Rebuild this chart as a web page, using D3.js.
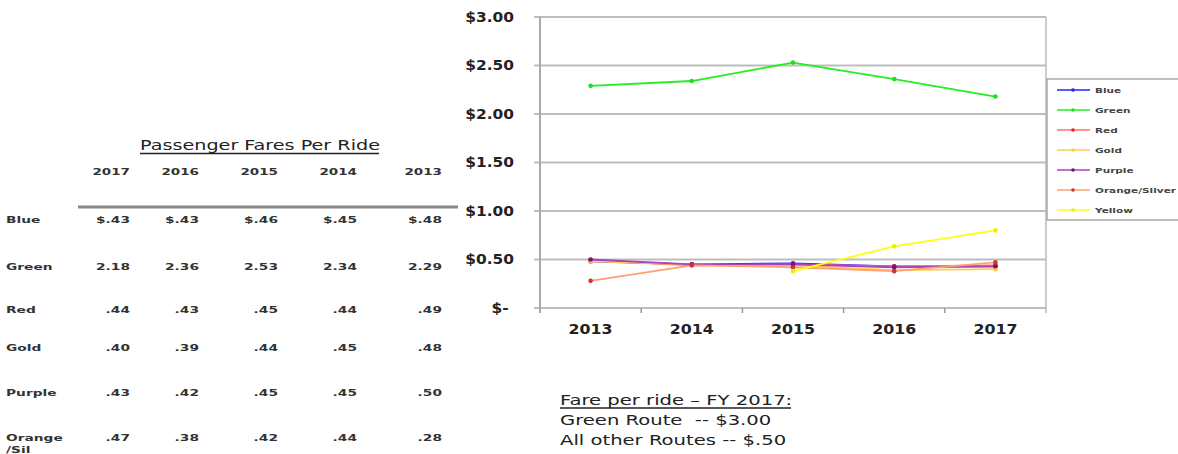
<!DOCTYPE html>
<html><head><meta charset="utf-8">
<script src="https://cdn.jsdelivr.net/npm/d3@7"></script>
<style>
body{margin:0;background:#fff;}
svg{display:block;font-family:"DejaVu Sans",Verdana,sans-serif;}
text{white-space:pre;}
</style></head>
<body><svg id="c" width="1178" height="454"></svg>
<script>
const years = ["2013","2014","2015","2016","2017"];
const seriesNames = ["Blue","Green","Red","Gold","Purple","Orange/Silver","Yellow"];
const blue   = [0.48,0.45,0.46,0.43,0.43];
const green  = [2.29,2.34,2.53,2.36,2.18];
const red    = [0.49,0.44,0.45,0.43,0.44];
const gold   = [0.48,0.45,0.44,0.39,0.40];
const purple = [0.50,0.45,0.45,0.42,0.43];
const orange = [0.28,0.44,0.42,0.38,0.47];
const yellow = [null,null,0.38,0.635,0.80];
const yTicks = [0,0.5,1,1.5,2,2.5,3];
const yTickLabels = ["$- ","$0.50","$1.00","$1.50","$2.00","$2.50","$3.00"];

// table data
const tableTitle = "Passenger Fares Per Ride";
const tableYears = ["2017","2016","2015","2014","2013"];
const tableRows = ["Blue","Green","Red","Gold","Purple","Orange"];
const tableVals = [
  ["$.43","$.43","$.46","$.45","$.48"],
  ["2.18","2.36","2.53","2.34","2.29"],
  [".44",".43",".45",".44",".49"],
  [".40",".39",".44",".45",".48"],
  [".43",".42",".45",".45",".50"],
  [".47",".38",".42",".44",".28"]
];
const noteLines = ["Fare per ride \u2013 FY 2017:","Green Route  -- $3.00","All other Routes -- $.50"];

const lineColors = ["#2222ff","#22ee22","#ff6f6f","#ffcc55","#aa44bb","#ffa070","#ffff11"];
const markColors = ["#2222ff","#22dd22","#ee2222","#ffcc33","#771177","#cc3333","#eeee00"];
const allSeries = [blue,green,red,gold,purple,orange,yellow];

const svg = d3.select("#c");
const L=540, R=1046, T=17, B=308;
const x = d3.scaleBand().domain(years).range([L,R]);
const y = d3.scaleLinear().domain([0,3]).range([B,T]);

function stext(g, px, py, txt, opts){
  const t = g.append("text")
    .attr("transform",`translate(${px},${py}) scale(${opts.sx||1},1)`)
    .attr("font-size",opts.size).attr("fill",opts.fill||"#222")
    .attr("text-anchor",opts.anchor||"start")
    .attr("font-weight",opts.bold?"bold":"normal")
    .text(txt);
  if(opts.dy) t.attr("dy",opts.dy);
  return t;
}

// grid
svg.append("g").selectAll("line").data(yTicks).join("line")
  .attr("x1",L-6).attr("x2",R).attr("y1",d=>y(d)).attr("y2",d=>y(d))
  .attr("stroke","#bdbdbd").attr("stroke-width",2);
svg.append("line").attr("x1",L).attr("x2",L).attr("y1",T).attr("y2",B+5).attr("stroke","#aaa").attr("stroke-width",2);
svg.append("line").attr("x1",R).attr("x2",R).attr("y1",T).attr("y2",B+5).attr("stroke","#bbb").attr("stroke-width",1.5);
svg.append("g").selectAll("line").data(years.slice(1)).join("line")
  .attr("x1",d=>x(d)).attr("x2",d=>x(d)).attr("y1",B).attr("y2",B+5)
  .attr("stroke","#999").attr("stroke-width",1.5);

const yl = svg.append("g");
yTicks.forEach((d,i)=>{
  stext(yl, 514, y(d), yTickLabels[i], {size:14, bold:true, anchor:"end", sx:1.1, dy:"0.35em"});
});
const xl = svg.append("g");
years.forEach(d=>{
  stext(xl, x(d)+x.bandwidth()/2, 334, d, {size:14, bold:true, anchor:"middle", sx:1.13});
});

const line = d3.line().defined(d=>d.v!=null).x(d=>x(d.yr)+x.bandwidth()/2).y(d=>y(d.v));
allSeries.forEach((s,i)=>{
  const pts = years.map((yr,j)=>({yr,v:s[j]}));
  svg.append("path").datum(pts).attr("d",line).attr("fill","none")
    .attr("stroke",lineColors[i]).attr("stroke-width",1.8);
  svg.append("g").selectAll("circle").data(pts.filter(p=>p.v!=null)).join("circle")
    .attr("cx",p=>x(p.yr)+x.bandwidth()/2).attr("cy",p=>y(p.v)).attr("r",2.3)
    .attr("fill",markColors[i]);
});

const lg = svg.append("g");
lg.append("rect").attr("x",1047).attr("y",79).attr("width",135).attr("height",141)
  .attr("fill","#fff").attr("stroke","#aaa").attr("stroke-width",1.5);
seriesNames.forEach((n,i)=>{
  const yy = 90 + i*20;
  lg.append("line").attr("x1",1057).attr("x2",1090).attr("y1",yy).attr("y2",yy)
    .attr("stroke",lineColors[i]).attr("stroke-width",1.6);
  lg.append("circle").attr("cx",1073).attr("cy",yy).attr("r",1.8).attr("fill",markColors[i]);
  stext(lg, 1095, yy, n, {size:7.5, bold:true, fill:"#444", sx:1.4, dy:"0.35em"});
});

const tg = svg.append("g");
stext(tg, 260, 150, tableTitle, {size:14, anchor:"middle", sx:1.37});
tg.append("line").attr("x1",140).attr("x2",379).attr("y1",153.5).attr("y2",153.5).attr("stroke","#222").attr("stroke-width",1.4);
const colRight = [130,199,278,357,442];
tableYears.forEach((yr,j)=>{
  stext(tg, colRight[j], 175, yr, {size:9, bold:true, fill:"#333", anchor:"end", sx:1.5});
});
tg.append("line").attr("x1",78).attr("x2",458).attr("y1",207).attr("y2",207).attr("stroke","#888").attr("stroke-width",3);
const rowY = [220,267,310,348,393,438];
tableRows.forEach((r,i)=>{
  stext(tg, 6, rowY[i], r, {size:9.5, bold:true, fill:"#333", sx:1.45, dy:"0.35em"});
  tableVals[i].forEach((v,j)=>{
    stext(tg, colRight[j], rowY[i], v, {size:9.5, bold:true, fill:"#333", anchor:"end", sx:1.45, dy:"0.35em"});
  });
});
stext(tg, 6, 453, "/Sil", {size:9.5, bold:true, fill:"#333", sx:1.45});

const ng = svg.append("g");
noteLines.forEach((t,i)=>{
  stext(ng, 560, 405+i*20, t, {size:14, sx:1.4});
});
ng.append("line").attr("x1",560).attr("x2",791).attr("y1",408).attr("y2",408).attr("stroke","#222").attr("stroke-width",1.4);
</script></body></html>
